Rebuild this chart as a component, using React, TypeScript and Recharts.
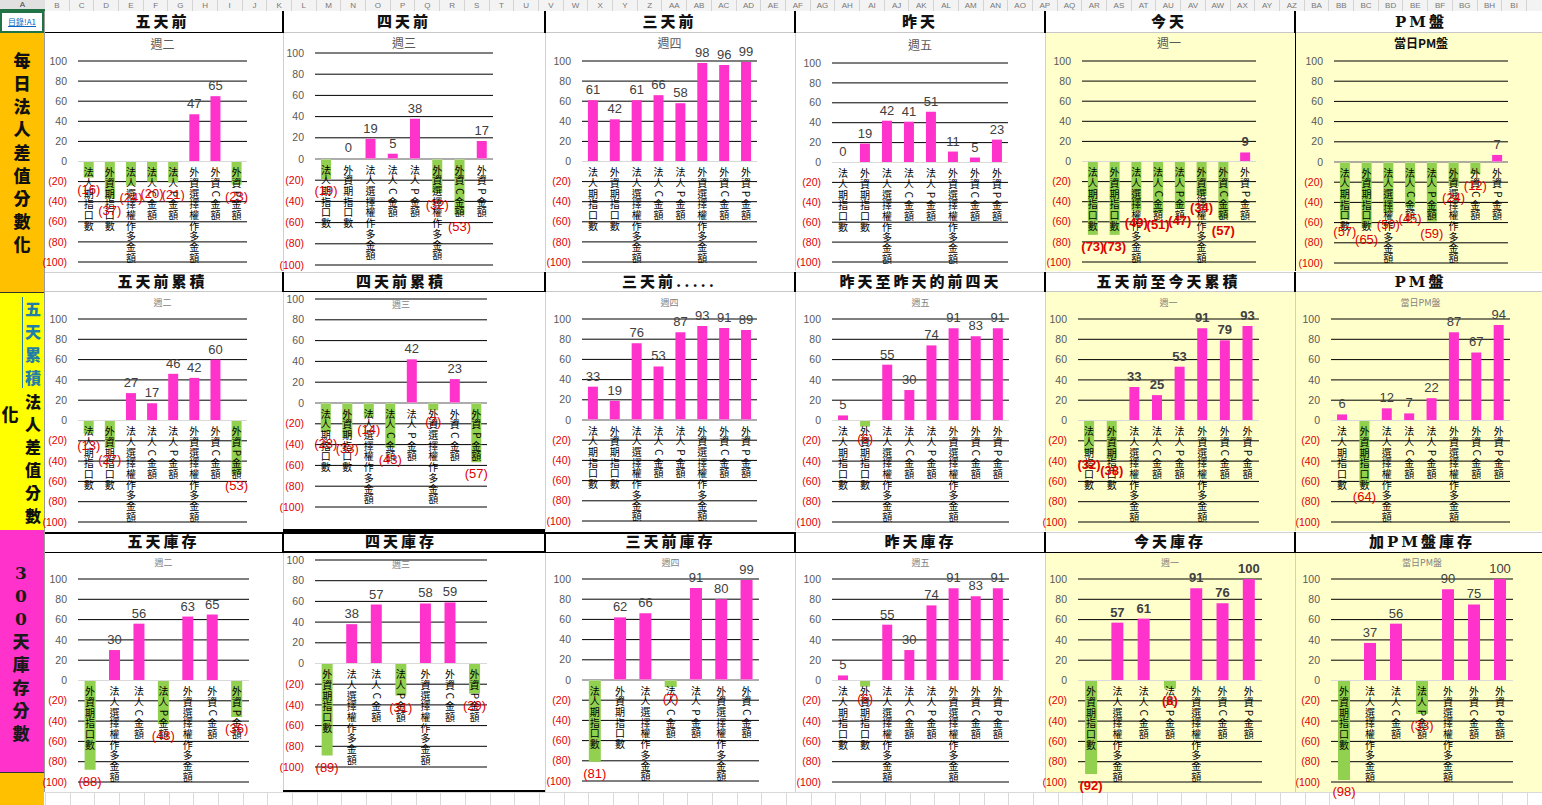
import React from "react";
import {
  BarChart,
  Bar,
  Cell,
  XAxis,
  YAxis,
  CartesianGrid,
  ReferenceLine,
  LabelList,
} from "recharts";

// ---- categories ----
const CATS8 = [
  "法人期指口數",
  "外資期指口數",
  "法人選擇權作多金額",
  "法人C金額",
  "法人P金額",
  "外資選擇權作多金額",
  "外資C金額",
  "外資P金額",
];
// 庫存 charts drop one category
const CATS_NO_INST_FUT = CATS8.filter((c) => c !== "法人期指口數");
const CATS_NO_FOR_P = CATS8.filter((c) => c !== "外資P金額");

const SUBTITLES = ["週二", "週三", "週四", "週五", "週一", "當日PM盤"];

const HEAD_ROW1 = ["五天前", "四天前", "三天前", "昨天", "今天", "PM盤"];
const HEAD_ROW2 = ["五天前累積", "四天前累積", "三天前.....", "昨天至昨天的前四天", "五天前至今天累積", "PM盤"];
const HEAD_ROW3 = ["五天庫存", "四天庫存", "三天前庫存", "昨天庫存", "今天庫存", "加PM盤庫存"];

const Y_TICKS = [100, 80, 60, 40, 20, 0, -20, -40, -60, -80, -100];

// ---- row 1: 每日法人差值分數化 ----
const daily5 = [-16, -37, -24, -20, -21, 47, 65, -23];
const daily4 = [-19, 0, 19, 5, 38, -32, -53, 17];
const daily3 = [61, 42, 61, 66, 58, 98, 96, 99];
const dailyYest = [0, 19, 42, 41, 51, 11, 5, 23];
const dailyToday = [-73, -73, -49, -51, -47, -34, -57, 9];
const dailyPM = [-57, -65, -50, -45, -59, -24, -12, 7];

// ---- row 2: 五天累積 法人差值分數 ----
const cum5 = [-13, -27, 27, 17, 46, 42, 60, -53];
const cum4 = [-28, -33, -14, -43, 42, -7, 23, -57];
const cum3 = [33, 19, 76, 53, 87, 93, 91, 89];
const cumYest = [5, -6, 55, 30, 74, 91, 83, 91];
const cumToday = [-32, -38, 33, 25, 53, 91, 79, 93];
const cumPM = [6, -64, 12, 7, 22, 87, 67, 94];

// ---- row 3: 300天庫存分數 ----
const stock5 = [-88, 30, 56, -43, 63, 65, -36];
const stock4 = [-89, 38, 57, -31, 58, 59, -29];
const stock3 = [-81, 62, 66, -7, 91, 80, 99];
const stockYest = [5, -6, 55, 30, 74, 91, 83, 91];
const stockToday = [-92, 57, 61, -8, 91, 76, 100];
const stockPM = [-98, 37, 56, -33, 90, 75, 100];

const ROWS = [
  { heads: HEAD_ROW1, cats: [CATS8, CATS8, CATS8, CATS8, CATS8, CATS8], vals: [daily5, daily4, daily3, dailyYest, dailyToday, dailyPM] },
  { heads: HEAD_ROW2, cats: [CATS8, CATS8, CATS8, CATS8, CATS8, CATS8], vals: [cum5, cum4, cum3, cumYest, cumToday, cumPM] },
  {
    heads: HEAD_ROW3,
    cats: [CATS_NO_INST_FUT, CATS_NO_INST_FUT, CATS_NO_FOR_P, CATS8, CATS_NO_INST_FUT, CATS_NO_INST_FUT],
    vals: [stock5, stock4, stock3, stockYest, stockToday, stockPM],
  },
];

// ---- layout ----
const SEP_X = [45, 283, 545, 795, 1045, 1295, 1542];
const HEAD_Y = [[11, 33], [272, 292], [532, 553]];
const CELL_Y = [[33, 271], [292, 531], [553, 792]];
const SUB_Y = [[44, 43, 43, 45, 43, 43], [303, 305, 303, 303, 303, 303], [563, 565, 563, 563, 563, 563]];
// plot rects [left, right, top, bottom]
const PLOT = [
  [[78, 247, 61, 262], [315, 493, 53, 265], [582, 757, 61, 262], [832, 1008, 63, 262], [1082, 1256, 61, 262], [1334, 1508, 61, 263]],
  [[78, 247, 319, 522], [315, 487, 299, 507], [582, 757, 319, 521], [832, 1009, 319, 522], [1078, 1259, 319, 522], [1331, 1510, 319, 522]],
  [[78, 249, 579, 782], [315, 487, 560, 767], [582, 759, 579, 781], [832, 1009, 579, 782], [1078, 1262, 579, 782], [1331, 1513, 579, 782]],
];

const PINK = "#FF33CC";
const GREEN = "#92D050";
const RED = "#E00000";
const NUM_FONT = "'Liberation Sans', Arial, sans-serif";
const CJK_FONT = "'Noto Sans CJK TC', 'Noto Sans CJK SC', sans-serif";

const AXIS_W = 45;
const PAD_T = 26;
const PAD_B = 18;
const PAD_R = 8;

function YTick(props: any) {
  const { x, y, payload } = props;
  const v = payload.value;
  return (
    <text x={x} y={y} dy="0.35em" textAnchor="end" fontSize={10.5} fontFamily={NUM_FONT} fill={v < 0 ? RED : "#595959"}>
      {v < 0 ? `(${-v})` : v}
    </text>
  );
}

function box(props: any) {
  const vb = props.viewBox && props.viewBox.width != null ? props.viewBox : props;
  const x = Number(vb.x), y = Number(vb.y), w = Number(vb.width), h = Number(vb.height);
  return { cx: x + w / 2, top: Math.min(y, y + h), bot: Math.max(y, y + h) };
}

function MiniChart({ row, col }: { row: number; col: number }) {
  const spec = ROWS[row];
  const vals = spec.vals[col];
  const data = spec.cats[col].map((name, i) => ({ name, v: vals[i] }));
  const byName: Record<string, number> = {};
  data.forEach((d) => (byName[d.name] = d.v));
  const [L, R, T, B] = PLOT[row][col];
  const bold = col === 4;
  const width = R - L + AXIS_W + PAD_R;
  const height = B - T + PAD_T + PAD_B;

  const valueLabel = (props: any) => {
    const { cx, top, bot } = box(props);
    const v = Number(props.value);
    if (v >= 0)
      return (
        <text x={cx} y={top - 6} textAnchor="middle" fontSize={13} fontFamily={NUM_FONT} fontWeight={bold ? 700 : 400} fill="#404040">
          {v}
        </text>
      );
    return (
      <text x={cx} y={bot + 16} textAnchor="middle" fontSize={13} fontFamily={NUM_FONT} fontWeight={bold ? 700 : 400} fill={RED}>
        ({-v})
      </text>
    );
  };

  const nameLabel = (props: any) => {
    const { cx, top, bot } = box(props);
    const name = String(props.value);
    const v = byName[name] ?? 0;
    const zero = v >= 0 ? bot : top;
    return (
      <g>
        {Array.from(name).map((ch, i) => {
          const cy = zero + 11 + i * 10.7;
          const latin = /[A-Za-z]/.test(ch);
          return (
            <text
              key={i}
              x={cx}
              y={cy}
              dy="0.36em"
              textAnchor="middle"
              fontSize={10}
              fontFamily={CJK_FONT}
              fill="#000"
              transform={latin ? `rotate(90 ${cx} ${cy})` : undefined}
            >
              {ch}
            </text>
          );
        })}
      </g>
    );
  };

  return (
    <div style={{ position: "absolute", left: L - AXIS_W, top: T - PAD_T, width, height }}>
      <BarChart width={width} height={height} data={data} margin={{ top: PAD_T, right: PAD_R, bottom: PAD_B, left: 0 }} barCategoryGap="27%">
        <CartesianGrid horizontal vertical={false} stroke="#000" strokeOpacity={1} />
        <XAxis dataKey="name" hide />
        <YAxis
          type="number"
          domain={[-100, 100]}
          ticks={Y_TICKS}
          interval={0}
          width={AXIS_W}
          axisLine={false}
          tickLine={false}
          tickMargin={5}
          tick={<YTick />}
        />
        <ReferenceLine y={0} stroke="#D9D9D9" />
        <Bar dataKey="v" isAnimationActive={false} minPointSize={1}>
          {data.map((d, i) => (
            <Cell key={i} fill={d.v === 0 ? "transparent" : d.v < 0 ? GREEN : PINK} />
          ))}
          <LabelList dataKey="name" content={nameLabel} />
          <LabelList dataKey="v" content={valueLabel} />
        </Bar>
      </BarChart>
    </div>
  );
}

function colName(n: number) {
  let s = "";
  n += 1;
  while (n > 0) {
    const m = (n - 1) % 26;
    s = String.fromCharCode(65 + m) + s;
    n = Math.floor((n - 1) / 26);
  }
  return s;
}

function VText({ text, x, y0, step, color, size }: { text: string; x: number; y0: number; step: number; color: string; size: number }) {
  return (
    <>
      {Array.from(text).map((ch, i) => (
        <div
          key={i}
          style={{
            position: "absolute",
            left: x - 12,
            width: 24,
            top: y0 + i * step - 12,
            height: 24,
            lineHeight: "24px",
            textAlign: "center",
            fontSize: size,
            fontWeight: 900,
            color,
            fontFamily: "'DejaVu Serif', " + CJK_FONT,
          }}
        >
          {ch}
        </div>
      ))}
    </>
  );
}

export default function App() {
  const colLetters: React.ReactNode[] = [];
  for (let i = 1; i < 61; i++) {
    const x = 45 + (i - 1) * 24.7;
    colLetters.push(
      <div
        key={i}
        style={{
          position: "absolute",
          left: x,
          top: 0,
          width: 24.7,
          height: 11,
          borderRight: "1px solid #D4D4D4",
          boxSizing: "border-box",
          fontSize: 8,
          lineHeight: "11px",
          textAlign: "center",
          color: "#777",
          fontFamily: NUM_FONT,
        }}
      >
        {colName(i)}
      </div>
    );
  }

  const gridBottom: React.ReactNode[] = [];
  for (let i = 0; i < 61; i++) {
    gridBottom.push(
      <div key={i} style={{ position: "absolute", left: 45 + i * 24.7, top: 792, width: 1, height: 13, background: "#D9D9D9" }} />
    );
  }

  const headBorders = [
    ["#000", "#C8C8C8", "#C8C8C8", "#C8C8C8", "#C8C8C8", "#C8C8C8"],
    ["#C8C8C8", "#000", "#C8C8C8", "#C8C8C8", "#C8C8C8", "#C8C8C8"],
    ["#000", "#000", "#000", "#000", "#000", "#000"],
  ];

  return (
    <div
      style={{
        position: "absolute",
        left: 0,
        top: 0,
        width: 1542,
        height: 805,
        overflow: "hidden",
        background: "#fff",
        fontFamily: CJK_FONT,
      }}
    >
      {/* column letters */}
      <div style={{ position: "absolute", left: 0, top: 0, width: 1542, height: 11, background: "#F3F3F3", borderBottom: "1px solid #D4D4D4" }} />
      <div style={{ position: "absolute", left: 0, top: 0, width: 45, height: 11, background: "#E1E1E1", borderBottom: "2px solid #217346", boxSizing: "border-box", fontSize: 8, lineHeight: "10px", textAlign: "center", color: "#444", fontFamily: NUM_FONT }}>A</div>
      {colLetters}

      {/* column A */}
      <div style={{ position: "absolute", left: 0, top: 11, width: 44, height: 22, border: "2px solid #217346", boxSizing: "border-box", background: "#fff", fontSize: 8, lineHeight: "18px", textAlign: "center", color: "#0563C1", textDecoration: "underline" }}>
        目錄!A1
      </div>
      <div style={{ position: "absolute", left: 0, top: 33, width: 44, height: 259, background: "#FFC000" }} />
      <div style={{ position: "absolute", left: 0, top: 292, width: 44, height: 238, background: "#FFFF00", borderTop: "1px solid #333", boxSizing: "border-box" }} />
      <div style={{ position: "absolute", left: 0, top: 530, width: 44, height: 242, background: "#FF33CC" }} />
      <div style={{ position: "absolute", left: 0, top: 772, width: 44, height: 33, background: "#FFC000", borderTop: "1px solid #333", boxSizing: "border-box" }} />
      <VText text="每日法人差值分數化" x={22} y0={61} step={23} color="#111" size={17} />
      <VText text="化" x={10} y0={415} step={23} color="#111" size={17} />
      <VText text="五天累積" x={33} y0={310} step={23} color="#1F7FA8" size={16} />
      <div style={{ position: "absolute", left: 22, top: 297, width: 1, height: 91, background: "#1F7FA8" }} />
      <VText text="法人差值分數" x={33} y0={403} step={22.7} color="#111" size={16} />
      <VText text="300天庫存分數" x={21} y0={573} step={23} color="#1a1a1a" size={17} />
      <div style={{ position: "absolute", left: 44, top: 11, width: 1, height: 781, background: "#9A9A9A" }} />

      {/* light yellow areas */}
      {CELL_Y.map(([y0, y1], r) => (
        <div key={"yb" + r} style={{ position: "absolute", left: 1045, top: y0, width: 497, height: y1 - y0, background: "#FFFFCC" }} />
      ))}

      {/* headers */}
      {HEAD_Y.map(([y0, y1], r) =>
        SEP_X.slice(0, 6).map((x0, c) => {
          const [L, R] = PLOT[r][c];
          const mid = (L + R) / 2;
          return (
            <React.Fragment key={"h" + r + c}>
              <div
                style={{
                  position: "absolute",
                  left: x0,
                  top: y0,
                  width: SEP_X[c + 1] - x0,
                  height: y1 - y0,
                  background: "#fff",
                  borderBottom: `${r === 2 && c === 1 ? 2 : 1}px solid ${headBorders[r][c]}`,
                  borderTop: r === 2 && c < 3 ? "2px solid #000" : r === 0 ? "none" : "1px solid #D0D0D0",
                  boxSizing: "border-box",
                }}
              />
              <div
                style={{
                  position: "absolute",
                  left: mid - 120,
                  width: 240,
                  top: y0,
                  height: y1 - y0,
                  lineHeight: `${y1 - y0}px`,
                  textAlign: "center",
                  fontSize: 15,
                  fontWeight: 900,
                  letterSpacing: 3,
                  color: "#111",
                  fontFamily: "'DejaVu Serif', " + CJK_FONT,
                  whiteSpace: "nowrap",
                }}
              >
                {ROWS[r].heads[c]}
              </div>
            </React.Fragment>
          );
        })
      )}

      {/* separators */}
      {SEP_X.slice(1, 6).map((x) => (
        <React.Fragment key={"s" + x}>
          {HEAD_Y.map(([y0, y1], r) => (
            <div key={r} style={{ position: "absolute", left: x - 1, top: y0, width: 2, height: y1 - y0, background: "#000" }} />
          ))}
          {CELL_Y.map(([y0, y1], r) => (
            <div key={"c" + r} style={{ position: "absolute", left: x, top: y0, width: 1, height: y1 - y0, background: x === 1295 && r === 0 ? "#000" : "#D0D0D0" }} />
          ))}
        </React.Fragment>
      ))}
      <div style={{ position: "absolute", left: 283, top: 529, width: 262, height: 3, background: "#000" }} />
      <div style={{ position: "absolute", left: 283, top: 790, width: 262, height: 3, background: "#000" }} />

      {/* bottom grid */}
      <div style={{ position: "absolute", left: 45, top: 792, width: 1497, height: 1, background: "#D9D9D9" }} />
      {gridBottom}

      {/* subtitles */}
      {PLOT.map((rowPlots, r) =>
        rowPlots.map(([L, R], c) => (
          <div
            key={"t" + r + c}
            style={{
              position: "absolute",
              left: (L + R) / 2 - 60,
              width: 120,
              top: SUB_Y[r][c] - 8,
              height: 16,
              lineHeight: "16px",
              textAlign: "center",
              fontSize: r === 0 ? 12 : 9,
              fontWeight: r === 0 && c === 5 ? 700 : 400,
              color: r === 0 ? (c === 5 ? "#111" : "#595959") : "#7F7F7F",
              whiteSpace: "nowrap",
            }}
          >
            {SUBTITLES[c]}
          </div>
        ))
      )}

      {/* charts */}
      {ROWS.map((_, r) => [0, 1, 2, 3, 4, 5].map((c) => <MiniChart key={`${r}-${c}`} row={r} col={c} />))}
    </div>
  );
}
